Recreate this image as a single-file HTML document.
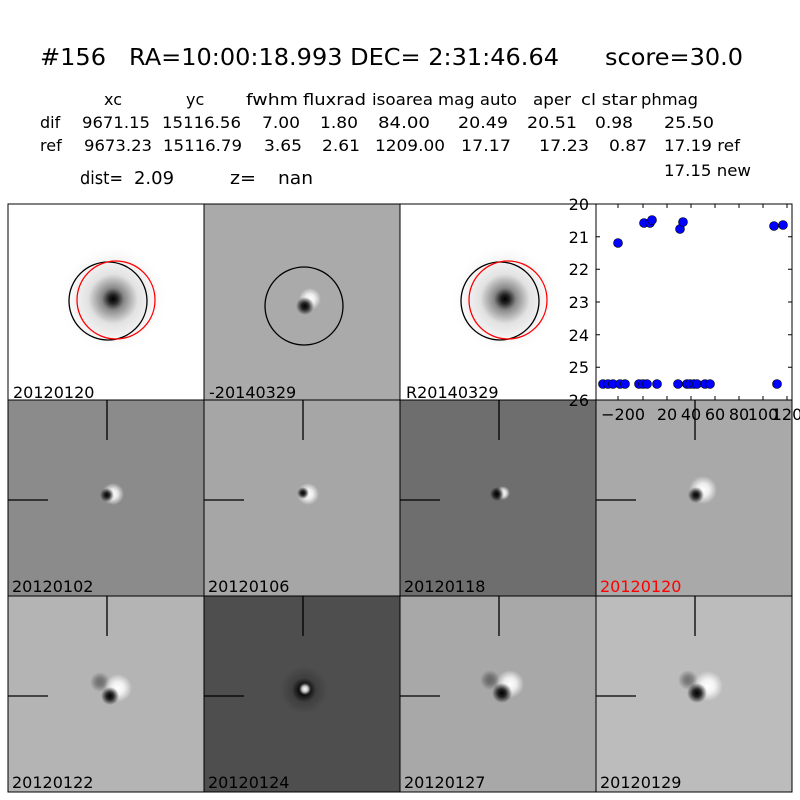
<!DOCTYPE html>
<html><head><meta charset="utf-8"><style>
html,body{margin:0;padding:0;background:#fff;}
svg{display:block;}
text{font-family:"DejaVu Sans","Liberation Sans",sans-serif;}
</style></head><body>
<svg width="800" height="800" viewBox="0 0 800 800" xmlns="http://www.w3.org/2000/svg">
<defs>
<radialGradient id="ref"><stop offset="0" stop-color="#000"/><stop offset="0.08" stop-color="#222"/><stop offset="0.2" stop-color="#888"/><stop offset="0.45" stop-color="#e2e2e2"/><stop offset="0.8" stop-color="#fafafa"/><stop offset="1" stop-color="#fff" stop-opacity="0"/></radialGradient>
<radialGradient id="dk"><stop offset="0" stop-color="#000"/><stop offset="0.4" stop-color="#000" stop-opacity="0.8"/><stop offset="1" stop-color="#000" stop-opacity="0"/></radialGradient>
<radialGradient id="wh"><stop offset="0" stop-color="#fff"/><stop offset="0.45" stop-color="#fff" stop-opacity="0.8"/><stop offset="1" stop-color="#fff" stop-opacity="0"/></radialGradient>
</defs>
<rect width="800" height="800" fill="#fff"/>
<text x="40" y="65" font-size="23" textLength="66" lengthAdjust="spacingAndGlyphs">#156</text>
<text x="129" y="65" font-size="23" textLength="430" lengthAdjust="spacingAndGlyphs">RA=10:00:18.993 DEC= 2:31:46.64</text>
<text x="605" y="65" font-size="23" textLength="138" lengthAdjust="spacingAndGlyphs">score=30.0</text>
<g font-size="16">
<text x="104" y="105">xc</text><text x="186" y="105">yc</text><text x="246" y="105" textLength="52" lengthAdjust="spacingAndGlyphs">fwhm</text><text x="303" y="105" textLength="63" lengthAdjust="spacingAndGlyphs">fluxrad</text><text x="372" y="105" textLength="61" lengthAdjust="spacingAndGlyphs">isoarea</text><text x="438" y="105" textLength="79" lengthAdjust="spacingAndGlyphs">mag auto</text><text x="533" y="105" textLength="38" lengthAdjust="spacingAndGlyphs">aper</text><text x="581" y="105" textLength="56" lengthAdjust="spacingAndGlyphs">cl star</text><text x="641" y="105" textLength="57" lengthAdjust="spacingAndGlyphs">phmag</text>
<text x="40" y="128">dif</text><text x="82" y="128" textLength="68" lengthAdjust="spacingAndGlyphs">9671.15</text><text x="162" y="128" textLength="79" lengthAdjust="spacingAndGlyphs">15116.56</text><text x="262" y="128" textLength="38" lengthAdjust="spacingAndGlyphs">7.00</text><text x="320" y="128" textLength="38" lengthAdjust="spacingAndGlyphs">1.80</text><text x="378" y="128" textLength="52" lengthAdjust="spacingAndGlyphs">84.00</text><text x="458" y="128" textLength="50" lengthAdjust="spacingAndGlyphs">20.49</text><text x="527" y="128" textLength="50" lengthAdjust="spacingAndGlyphs">20.51</text><text x="595" y="128" textLength="38" lengthAdjust="spacingAndGlyphs">0.98</text><text x="664" y="128" textLength="50" lengthAdjust="spacingAndGlyphs">25.50</text>
<text x="40" y="151">ref</text><text x="84" y="151" textLength="68" lengthAdjust="spacingAndGlyphs">9673.23</text><text x="163" y="151" textLength="79" lengthAdjust="spacingAndGlyphs">15116.79</text><text x="264" y="151" textLength="38" lengthAdjust="spacingAndGlyphs">3.65</text><text x="322" y="151" textLength="38" lengthAdjust="spacingAndGlyphs">2.61</text><text x="375" y="151" textLength="70" lengthAdjust="spacingAndGlyphs">1209.00</text><text x="461" y="151" textLength="50" lengthAdjust="spacingAndGlyphs">17.17</text><text x="539" y="151" textLength="50" lengthAdjust="spacingAndGlyphs">17.23</text><text x="609" y="151" textLength="38" lengthAdjust="spacingAndGlyphs">0.87</text><text x="664" y="151" textLength="76" lengthAdjust="spacingAndGlyphs">17.19 ref</text>
<text x="664" y="176" textLength="87" lengthAdjust="spacingAndGlyphs">17.15 new</text>
</g>
<g font-size="18">
<text x="80" y="184" textLength="43" lengthAdjust="spacingAndGlyphs">dist=</text>
<text x="134" y="184" textLength="40" lengthAdjust="spacingAndGlyphs">2.09</text>
<text x="230" y="184" textLength="26" lengthAdjust="spacingAndGlyphs">z=</text>
<text x="278" y="184" textLength="35" lengthAdjust="spacingAndGlyphs">nan</text>
</g>

<rect x="8" y="204" width="196" height="196" fill="#fff"/>
<circle cx="113" cy="299" r="55" fill="url(#ref)"/>
<circle cx="108" cy="301" r="39" fill="none" stroke="#000" stroke-width="1.3"/>
<circle cx="116" cy="300" r="39" fill="none" stroke="#f00" stroke-width="1.3"/>
<rect x="204" y="204" width="196" height="196" fill="#aaa"/>
<circle cx="310" cy="299" r="11" fill="url(#wh)"/>
<circle cx="305" cy="306" r="9" fill="url(#dk)"/>
<circle cx="304" cy="306" r="39" fill="none" stroke="#000" stroke-width="1.3"/>
<rect x="400" y="204" width="196" height="196" fill="#fff"/>
<circle cx="505" cy="299" r="55" fill="url(#ref)"/>
<circle cx="500" cy="301" r="39" fill="none" stroke="#000" stroke-width="1.3"/>
<circle cx="508" cy="300" r="39" fill="none" stroke="#f00" stroke-width="1.3"/>
<g font-size="16"><text x="13" y="398">20120120</text><text x="209" y="398">-20140329</text><text x="406" y="398">R20140329</text></g>

<rect x="596" y="204" width="196" height="196" fill="#fff"/>
<g stroke="#000" stroke-width="1">
<path d="M596 236.7h4M596 269.3h4M596 302h4M596 334.7h4M596 367.3h4M792 236.7h-4M792 269.3h-4M792 302h-4M792 334.7h-4M792 367.3h-4"/>
<path d="M618 400v-4M643 400v-4M667 400v-4M691 400v-4M715 400v-4M739 400v-4M763 400v-4M787 400v-4M618 204v4M643 204v4M667 204v4M691 204v4M715 204v4M739 204v4M763 204v4M787 204v4"/>
</g>
<g fill="#00f" stroke="#000" stroke-width="0.6">
<circle cx="618" cy="243" r="4.5"/><circle cx="644" cy="223" r="4.5"/><circle cx="650" cy="223" r="4.5"/><circle cx="652" cy="220" r="4.5"/><circle cx="680" cy="229" r="4.5"/><circle cx="683" cy="222" r="4.5"/><circle cx="774" cy="226" r="4.5"/><circle cx="783" cy="225" r="4.5"/>
<circle cx="603" cy="384" r="4.5"/><circle cx="608" cy="384" r="4.5"/><circle cx="613" cy="384" r="4.5"/><circle cx="620" cy="384" r="4.5"/><circle cx="625" cy="384" r="4.5"/><circle cx="639" cy="384" r="4.5"/><circle cx="643" cy="384" r="4.5"/><circle cx="647" cy="384" r="4.5"/><circle cx="657" cy="384" r="4.5"/><circle cx="678" cy="384" r="4.5"/><circle cx="687" cy="384" r="4.5"/><circle cx="690" cy="384" r="4.5"/><circle cx="694" cy="384" r="4.5"/><circle cx="697" cy="384" r="4.5"/><circle cx="705" cy="384" r="4.5"/><circle cx="710" cy="384" r="4.5"/><circle cx="777" cy="384" r="4.5"/>
</g>
<rect x="596" y="204" width="196" height="196" fill="none" stroke="#000" stroke-width="1"/>

<rect x="8" y="400" width="196" height="196" fill="#8b8b8b"/>
<circle cx="113" cy="494" r="11" fill="url(#wh)"/><circle cx="107" cy="495" r="7" fill="url(#dk)"/>
<rect x="204" y="400" width="196" height="196" fill="#a6a6a6"/>
<circle cx="308" cy="494" r="11" fill="url(#wh)"/><circle cx="303" cy="493" r="6" fill="url(#dk)"/>
<rect x="400" y="400" width="196" height="196" fill="#6e6e6e"/>
<circle cx="503" cy="493" r="7" fill="url(#wh)"/><circle cx="497" cy="494" r="7" fill="url(#dk)"/>
<rect x="596" y="400" width="196" height="196" fill="#a9a9a9"/>
<circle cx="703" cy="490" r="14" fill="url(#wh)"/><circle cx="696" cy="495" r="8" fill="url(#dk)"/>
<rect x="8" y="596" width="196" height="196" fill="#b4b4b4"/>
<circle cx="100" cy="682" r="10" fill="url(#dk)" opacity="0.4"/>
<circle cx="118" cy="688" r="14" fill="url(#wh)"/><circle cx="110" cy="696" r="9" fill="url(#dk)"/>
<rect x="204" y="596" width="196" height="196" fill="#4e4e4e"/>
<circle cx="304" cy="690" r="24" fill="url(#dk)" opacity="0.3"/>
<circle cx="304" cy="690" r="12" fill="url(#dk)"/>
<circle cx="305" cy="689" r="6" fill="url(#wh)"/>
<rect x="400" y="596" width="196" height="196" fill="#a8a8a8"/>
<circle cx="490" cy="680" r="10" fill="url(#dk)" opacity="0.4"/>
<circle cx="510" cy="684" r="14" fill="url(#wh)"/><circle cx="502" cy="693" r="10" fill="url(#dk)"/>
<rect x="596" y="596" width="196" height="196" fill="#bcbcbc"/>
<circle cx="688" cy="680" r="10" fill="url(#dk)" opacity="0.4"/>
<circle cx="708" cy="686" r="15" fill="url(#wh)"/><circle cx="697" cy="693" r="10" fill="url(#dk)"/>

<g stroke="#000" stroke-width="1.3">
<path d="M107 400v40M8 500h40M303 400v40M204 500h40M499 400v40M400 500h40M695 400v40M596 500h40"/>
<path d="M107 596v40M8 696h40M303 596v40M204 696h40M499 596v40M400 696h40M695 596v40M596 696h40"/>
</g>
<g fill="none" stroke="#000" stroke-width="1">
<rect x="8" y="204" width="784" height="588"/>
<path d="M204 204v588M400 204v588M596 204v588M8 400h784M8 596h784"/>
</g>
<g font-size="16">
<text x="12" y="592">20120102</text><text x="208" y="592">20120106</text><text x="404" y="592">20120118</text><text x="600" y="592" fill="#f00">20120120</text>
<text x="12" y="788">20120122</text><text x="208" y="788">20120124</text><text x="404" y="788">20120127</text><text x="600" y="788">20120129</text>
</g>
<g font-size="16" text-anchor="end"><text x="589" y="210">20</text><text x="589" y="243">21</text><text x="589" y="275">22</text><text x="589" y="308">23</text><text x="589" y="341">24</text><text x="589" y="373">25</text><text x="589" y="406">26</text></g>
<g font-size="16" text-anchor="middle">
<text x="618" y="420">−20</text><text x="640" y="420">0</text><text x="667" y="420">20</text><text x="691" y="420">40</text><text x="715" y="420">60</text><text x="739" y="420">80</text><text x="763" y="420">100</text><text x="787" y="420">120</text>
</g>
</svg>
</body></html>
